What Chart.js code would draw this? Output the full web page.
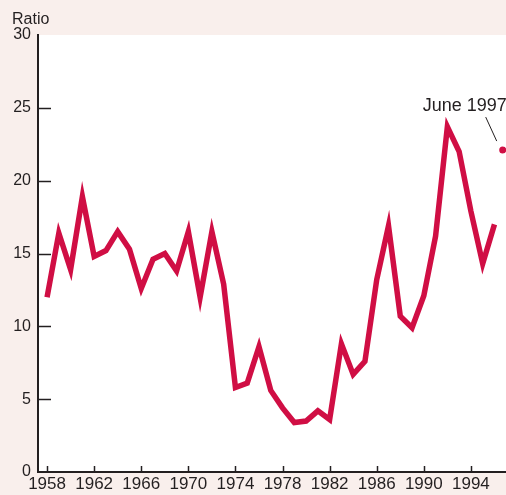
<!DOCTYPE html>
<html>
<head>
<meta charset="utf-8">
<script src="https://cdn.jsdelivr.net/npm/chart.js@4.4.1/dist/chart.umd.min.js"></script>
<style>
  html, body { margin: 0; padding: 0; background: #f9efec; }
  #wrap { width: 506px; height: 495px; }
</style>
</head>
<body>
<div id="wrap"><canvas id="ratioChart" width="506" height="495"></canvas></div>
<script>
// 年度資料
const years = [1958, 1959, 1960, 1961, 1962, 1963, 1964, 1965, 1966, 1967,
               1968, 1969, 1970, 1971, 1972, 1973, 1974, 1975, 1976, 1977,
               1978, 1979, 1980, 1981, 1982, 1983, 1984, 1985, 1986, 1987,
               1988, 1989, 1990, 1991, 1992, 1993, 1994, 1995, 1996];
const ratios = [12.0, 16.4, 13.9, 18.9, 14.8, 15.2, 16.5, 15.3, 12.6, 14.6,
                15.0, 13.8, 16.5, 12.0, 16.5, 12.9, 5.8, 6.1, 8.6, 5.6,
                4.4, 3.4, 3.5, 4.2, 3.6, 8.8, 6.7, 7.6, 13.2, 16.9,
                10.7, 9.9, 12.1, 16.2, 23.7, 22.0, 17.9, 14.3, 17.0];

// 最新一點
const latestLabel = 'June 1997';
const latestYear = 1996.7;
const latestRatio = 22.1;

// 刻度
const xTickYears = [1958, 1962, 1966, 1970, 1974, 1978, 1982, 1986, 1990, 1994];
const yTickValues = [0, 5, 10, 15, 20, 25, 30];
const yAxisTitle = 'Ratio';

const lineColor = '#d00e44';
const textColor = '#231f20';
const baseFont = '"Liberation Sans", Arial, Helvetica, sans-serif';

// 背景、底軸、向內刻度與註記
const ratioDecor = {
    id: 'ratioDecor',
    beforeDraw(chart) {
        const { ctx, chartArea: a } = chart;
        ctx.save();
        ctx.fillStyle = '#ffffff';
        ctx.fillRect(a.left, a.top, chart.width - a.left, a.bottom - a.top);
        ctx.restore();
    },
    afterDraw(chart) {
        const { ctx, chartArea: a, scales } = chart;
        ctx.save();
        ctx.strokeStyle = textColor;

        // 底軸延伸到右邊
        ctx.lineWidth = 2;
        ctx.beginPath();
        ctx.moveTo(a.left - 1, a.bottom);
        ctx.lineTo(chart.width, a.bottom);
        ctx.stroke();

        // y 軸向內刻度
        ctx.lineWidth = 1.5;
        yTickValues.forEach(v => {
            if (v === 0 || v === 30) return;
            const y = Math.round(scales.y.getPixelForValue(v)) + 0.5;
            ctx.beginPath();
            ctx.moveTo(a.left, y);
            ctx.lineTo(a.left + 13, y);
            ctx.stroke();
        });

        // x 軸向內刻度
        xTickYears.forEach(v => {
            const x = Math.round(scales.x.getPixelForValue(v)) + 0.5;
            ctx.beginPath();
            ctx.moveTo(x, a.bottom);
            ctx.lineTo(x, a.bottom - 6);
            ctx.stroke();
        });

        // 軸標題
        ctx.fillStyle = textColor;
        ctx.font = '16px ' + baseFont;
        ctx.textAlign = 'left';
        ctx.textBaseline = 'alphabetic';
        ctx.fillText(yAxisTitle, 12, 24);

        // June 1997 註記
        const px = scales.x.getPixelForValue(latestYear);
        const py = scales.y.getPixelForValue(latestRatio);
        ctx.font = '18px ' + baseFont;
        ctx.fillText(latestLabel, px - 80, py - 39);
        ctx.lineWidth = 1;
        ctx.beginPath();
        ctx.moveTo(px - 17, py - 33);
        ctx.lineTo(px - 6, py - 9);
        ctx.stroke();
        ctx.restore();
    }
};

const ctx = document.getElementById('ratioChart').getContext('2d');

const chart = new Chart(ctx, {
    type: 'line',
    data: {
        datasets: [{
            data: years.map((yr, i) => ({ x: yr, y: ratios[i] })),
            borderColor: lineColor,
            borderWidth: 5.5,
            borderJoinStyle: 'miter',
            pointRadius: 0,
            tension: 0
        }, {
            data: [{ x: latestYear, y: latestRatio }],
            showLine: false,
            clip: false,
            pointRadius: 3.5,
            pointBackgroundColor: lineColor,
            pointBorderWidth: 0
        }]
    },
    options: {
        responsive: false,
        animation: false,
        devicePixelRatio: 1,
        layout: { padding: { top: 35, left: 0, right: 0, bottom: 0 } },
        plugins: {
            legend: { display: false },
            tooltip: { enabled: false }
        },
        scales: {
            x: {
                type: 'linear',
                min: 1957.23,
                max: 1996.64,
                afterBuildTicks: s => { s.ticks = xTickYears.map(v => ({ value: v })); },
                afterFit: s => { s.height = 23; },
                ticks: {
                    callback: v => String(v),
                    color: textColor,
                    font: { family: baseFont, size: 17 },
                    padding: 2,
                    maxRotation: 0,
                    autoSkip: false
                },
                grid: { display: false, drawTicks: false },
                border: { display: false }
            },
            y: {
                min: 0,
                max: 30,
                afterBuildTicks: s => { s.ticks = yTickValues.map(v => ({ value: v })); },
                afterFit: s => { s.width = 38; },
                ticks: {
                    color: textColor,
                    font: { family: baseFont, size: 16 },
                    padding: 7
                },
                grid: { display: false, drawTicks: false },
                border: { display: true, color: textColor, width: 2 }
            }
        }
    },
    plugins: [ratioDecor]
});
</script>
</body>
</html>
